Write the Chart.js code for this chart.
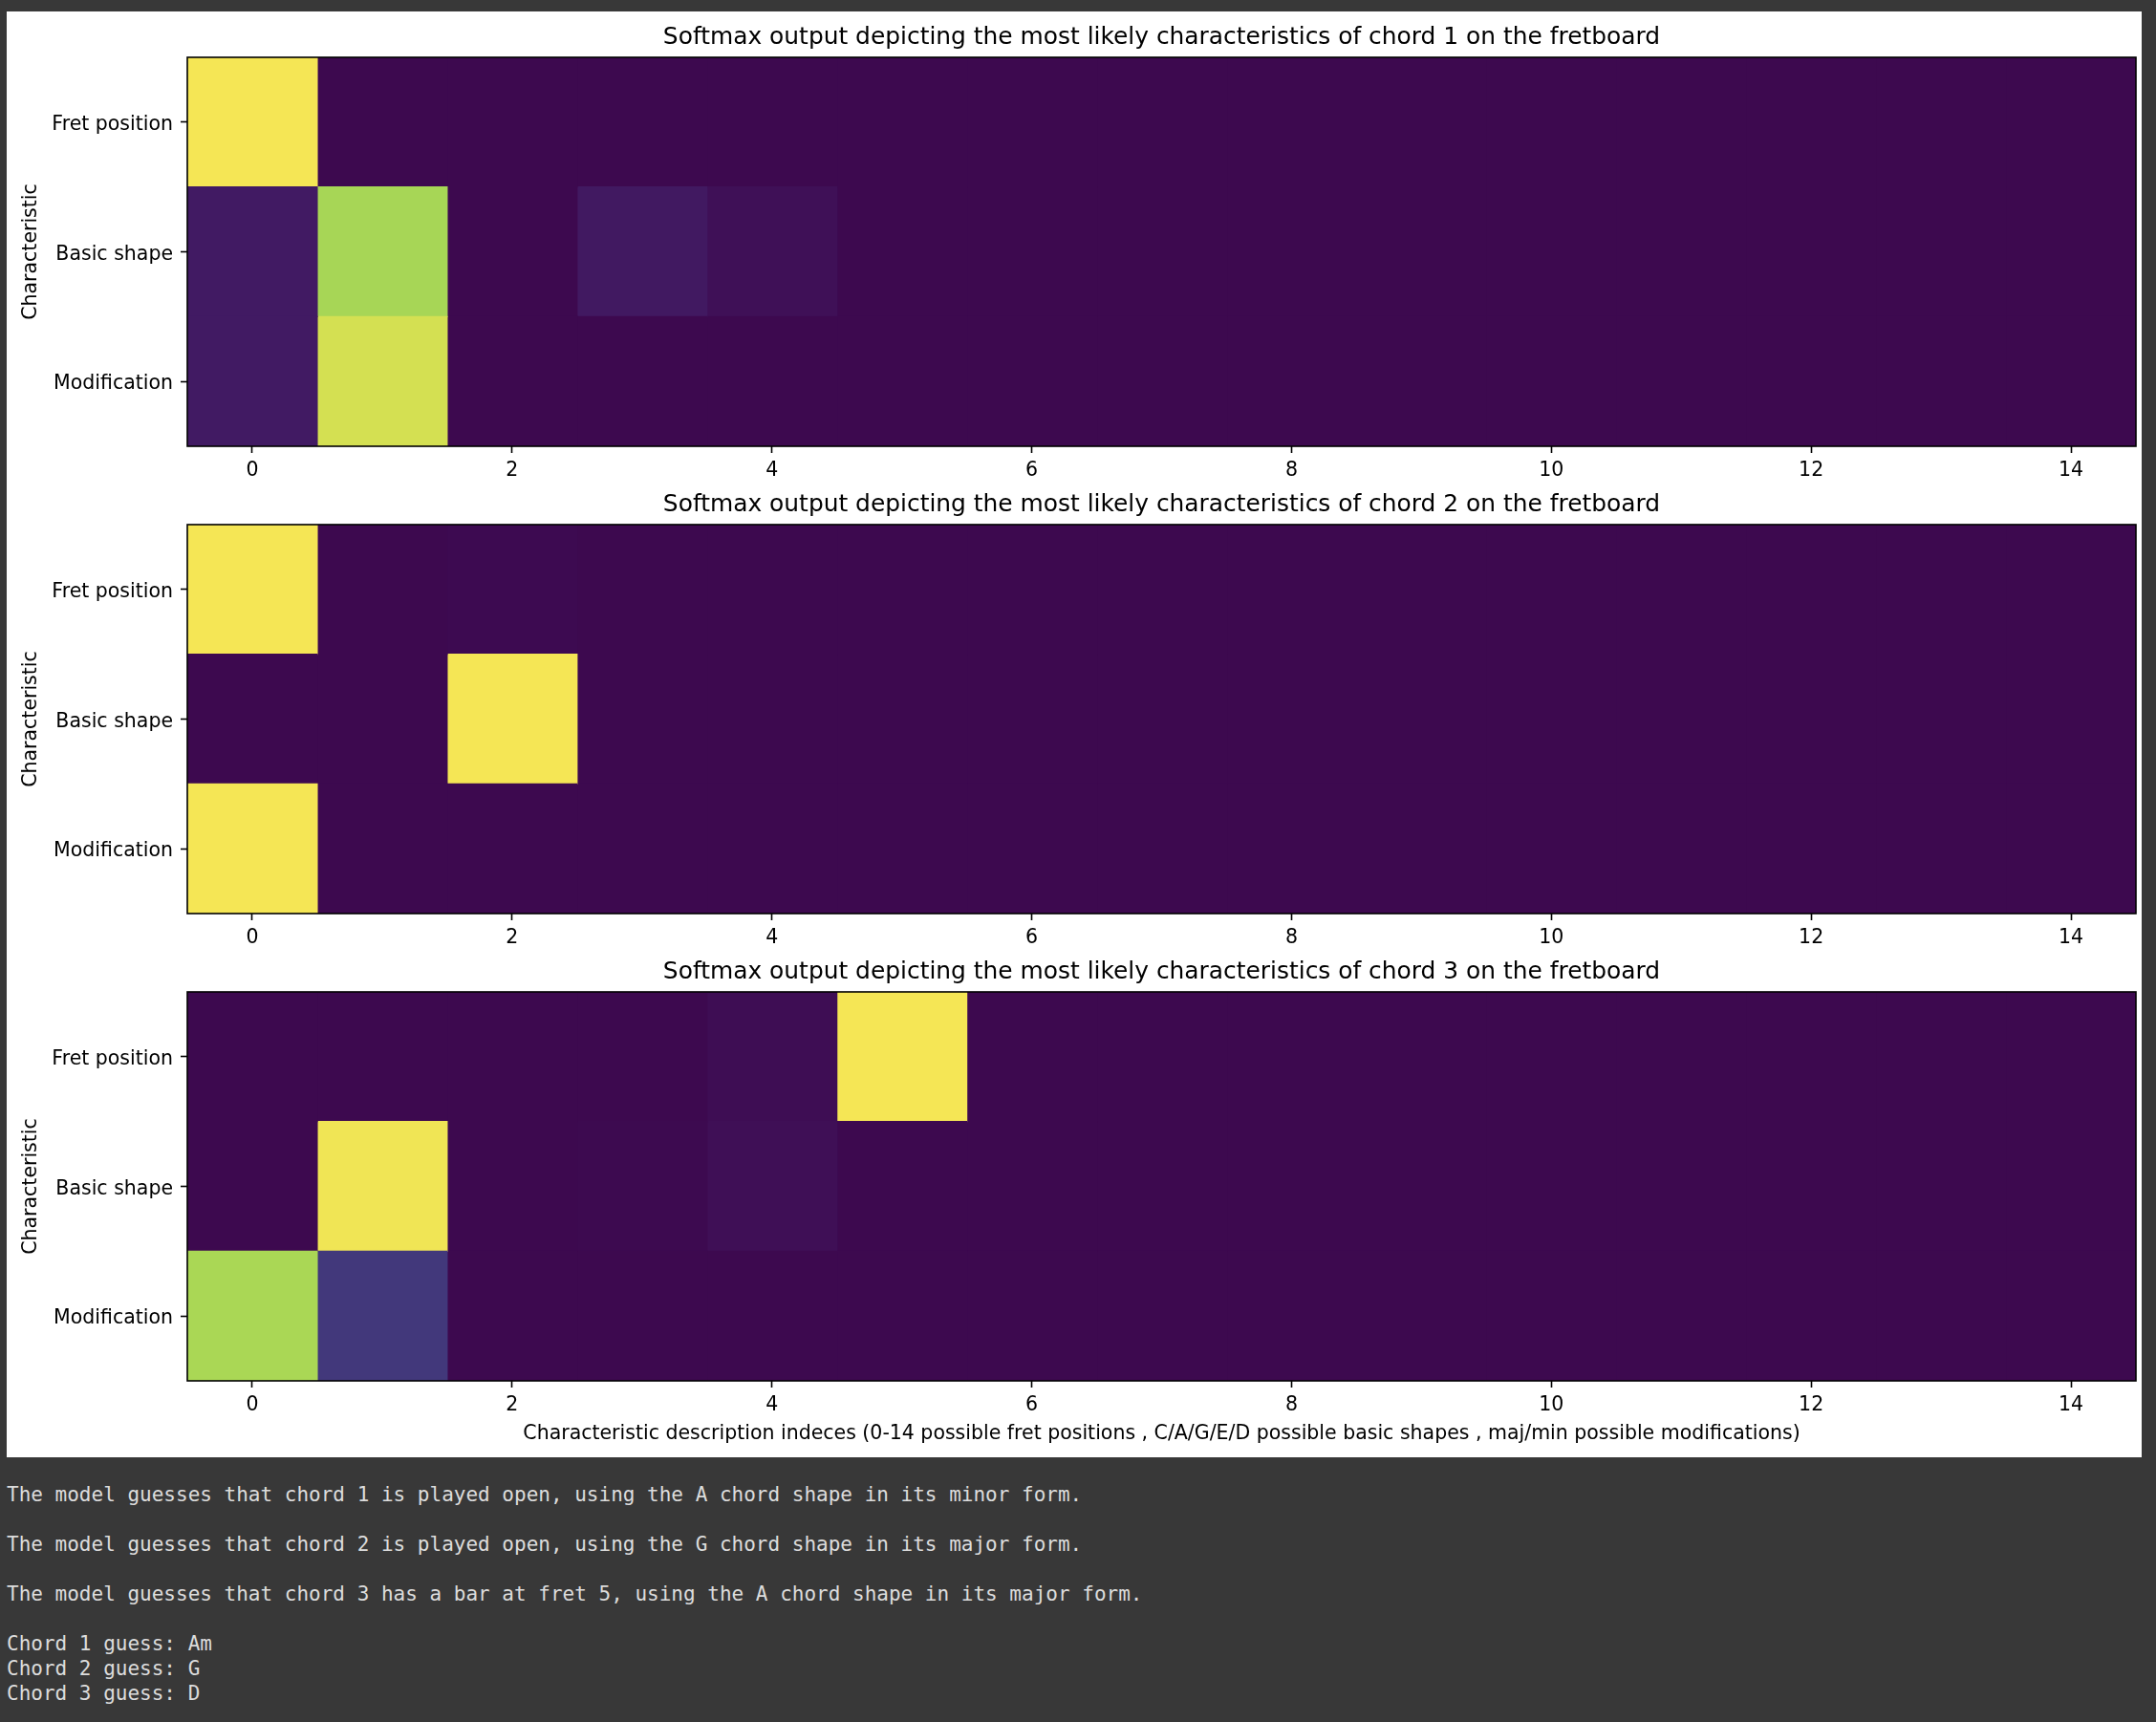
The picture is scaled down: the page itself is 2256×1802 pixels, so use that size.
<!DOCTYPE html>
<html><head><meta charset="utf-8">
<script src="https://cdn.jsdelivr.net/npm/chart.js@4.4.1/dist/chart.umd.min.js"></script>
<style>
html,body{margin:0;padding:0;background:#383838;width:2256px;height:1802px;overflow:hidden;}
#panel{position:absolute;left:7px;top:12px;width:2234px;height:1513px;background:#fff;}
canvas{position:absolute;left:0;}
#out{position:absolute;left:7px;top:1551px;margin:0;font-family:"DejaVu Sans Mono",monospace;font-size:21px;line-height:26px;color:#dcdcdc;white-space:pre;}
</style></head><body>
<div id="panel"></div>
<canvas id="c1"></canvas>
<canvas id="c2"></canvas>
<canvas id="c3"></canvas>
<pre id="out"></pre>
<script>
// ---- data ----
const rowLabels = ['Fret position', 'Basic shape', 'Modification'];
const xTickValues = [0, 2, 4, 6, 8, 10, 12, 14];
const nColumns = 15;

const chord1Fret  = [1.00, 0, 0, 0, 0, 0, 0, 0, 0, 0, 0, 0, 0, 0, 0];
const chord1Shape = [0.06, 0.86, 0, 0.055, 0.025, 0, 0, 0, 0, 0, 0, 0, 0, 0, 0];
const chord1Mod   = [0.06, 0.94, 0, 0, 0, 0, 0, 0, 0, 0, 0, 0, 0, 0, 0];

const chord2Fret  = [1.00, 0, 0.005, 0, 0, 0, 0, 0, 0, 0, 0, 0, 0, 0, 0];
const chord2Shape = [0, 0, 1.00, 0, 0, 0, 0, 0, 0, 0, 0, 0, 0, 0, 0];
const chord2Mod   = [1.00, 0, 0, 0, 0, 0, 0, 0, 0, 0, 0, 0, 0, 0, 0];

const chord3Fret  = [0, 0, 0, 0, 0.015, 1.00, 0, 0, 0, 0, 0, 0, 0, 0, 0];
const chord3Shape = [0, 0.99, 0, 0.004, 0.022, 0, 0, 0, 0, 0, 0, 0, 0, 0, 0];
const chord3Mod   = [0.865, 0.16, 0, 0, 0, 0, 0, 0, 0, 0, 0, 0, 0, 0, 0];

const chartTitles = [
  'Softmax output depicting the most likely characteristics of chord 1 on the fretboard',
  'Softmax output depicting the most likely characteristics of chord 2 on the fretboard',
  'Softmax output depicting the most likely characteristics of chord 3 on the fretboard'
];
const yTitle = 'Characteristic';
const xTitle = 'Characteristic description indeces (0-14 possible fret positions , C/A/G/E/D possible basic shapes , maj/min possible modifications)';

const outputLines = [
  'The model guesses that chord 1 is played open, using the A chord shape in its minor form.',
  '',
  'The model guesses that chord 2 is played open, using the G chord shape in its major form.',
  '',
  'The model guesses that chord 3 has a bar at fret 5, using the A chord shape in its major form.',
  '',
  'Chord 1 guess: Am',
  'Chord 2 guess: G',
  'Chord 3 guess: D'
];

// ---- colormap (viridis as it appears in the picture) ----
const cmapStops = [[61,9,79],[68,38,112],[64,68,131],[56,94,138],[48,118,140],[44,142,138],[52,165,130],[85,188,114],[132,206,95],[190,220,80],[245,230,85]];
function cmap(v) {
  v = Math.max(0, Math.min(1, v));
  const p = v * 10, i = Math.min(9, Math.floor(p)), t = p - i;
  const a = cmapStops[i], b = cmapStops[i + 1];
  return 'rgb(' + [0,1,2].map(k => Math.round(a[k] + (b[k] - a[k]) * t)).join(',') + ')';
}

Chart.defaults.font.family = '"DejaVu Sans", sans-serif';
Chart.defaults.color = '#000';

const framePlugin = {
  id: 'frame',
  beforeDatasetsDraw(chart) {
    const {ctx, chartArea: a} = chart;
    ctx.save(); ctx.fillStyle = cmap(0); ctx.fillRect(a.left, a.top, a.right - a.left, a.bottom - a.top); ctx.restore();
  },
  afterDatasetsDraw(chart) {
    const {ctx, chartArea: a} = chart;
    ctx.save(); ctx.strokeStyle = '#000'; ctx.lineWidth = 1.6;
    ctx.strokeRect(a.left, a.top, a.right - a.left, a.bottom - a.top); ctx.restore();
  }
};

const PLOT_TOPS = [60, 549, 1038];
const PLOT_H = 407, TITLE_BOX = 50;

function makeChart(id, rowsData, title, idx, isLast) {
  const canvas = document.getElementById(id);
  const bottomH = isLast ? 68 : 40;
  const h = TITLE_BOX + PLOT_H + bottomH;
  canvas.width = 2256; canvas.height = h;
  canvas.style.width = '2256px'; canvas.style.height = h + 'px';
  canvas.style.top = (PLOT_TOPS[idx] - TITLE_BOX) + 'px';
  const datasets = [];
  for (let c = 0; c < nColumns; c++) {
    datasets.push({
      data: rowsData.map(() => [c - 0.5, c + 0.5]),
      backgroundColor: rowsData.map(r => cmap(r[c])),
      borderWidth: 0, grouped: false, barPercentage: 1, categoryPercentage: 1, inflateAmount: 0.6
    });
  }
  const tickFont = {size: 20.5};
  return new Chart(canvas, {
    type: 'bar',
    data: {labels: rowLabels, datasets},
    plugins: [framePlugin],
    options: {
      indexAxis: 'y', responsive: false, animation: false, events: [],
      layout: {padding: {left: 0, right: 2256 - 2235, top: 0, bottom: 0}},
      plugins: {
        legend: {display: false}, tooltip: {enabled: false},
        title: {display: true, fullSize: false, text: title, color: '#000', font: {size: 24.9, weight: 'normal'}, padding: {top: 14.1, bottom: 6}}
      },
      scales: {
        x: {
          type: 'linear', min: -0.5, max: 14.5,
          afterBuildTicks: s => { s.ticks = xTickValues.map(v => ({value: v})); },
          ticks: {font: tickFont, color: '#000', padding: 6, maxRotation: 0, autoSkip: false},
          grid: {drawOnChartArea: false, drawTicks: true, tickLength: 7, tickColor: '#000', tickWidth: 1.6},
          border: {display: false},
          title: isLast ? {display: true, text: xTitle, color: '#000', font: tickFont, padding: {top: 4, bottom: 0}} : {display: false},
          afterFit: s => { s.height = bottomH; }
        },
        y: {
          type: 'category', offset: true,
          ticks: {font: tickFont, color: '#000', padding: 8, labelOffset: 3},
          grid: {offset: false, drawOnChartArea: false, drawTicks: true, tickLength: 7, tickColor: '#000', tickWidth: 1.6},
          border: {display: false},
          title: {display: true, text: yTitle, color: '#000', font: tickFont, padding: {top: 20.7, bottom: 0}},
          afterFit: s => { s.width = 196; }
        }
      }
    }
  });
}

makeChart('c1', [chord1Fret, chord1Shape, chord1Mod], chartTitles[0], 0, false);
makeChart('c2', [chord2Fret, chord2Shape, chord2Mod], chartTitles[1], 1, false);
makeChart('c3', [chord3Fret, chord3Shape, chord3Mod], chartTitles[2], 2, true);

document.getElementById('out').textContent = outputLines.join('\n');
</script>
</body></html>
